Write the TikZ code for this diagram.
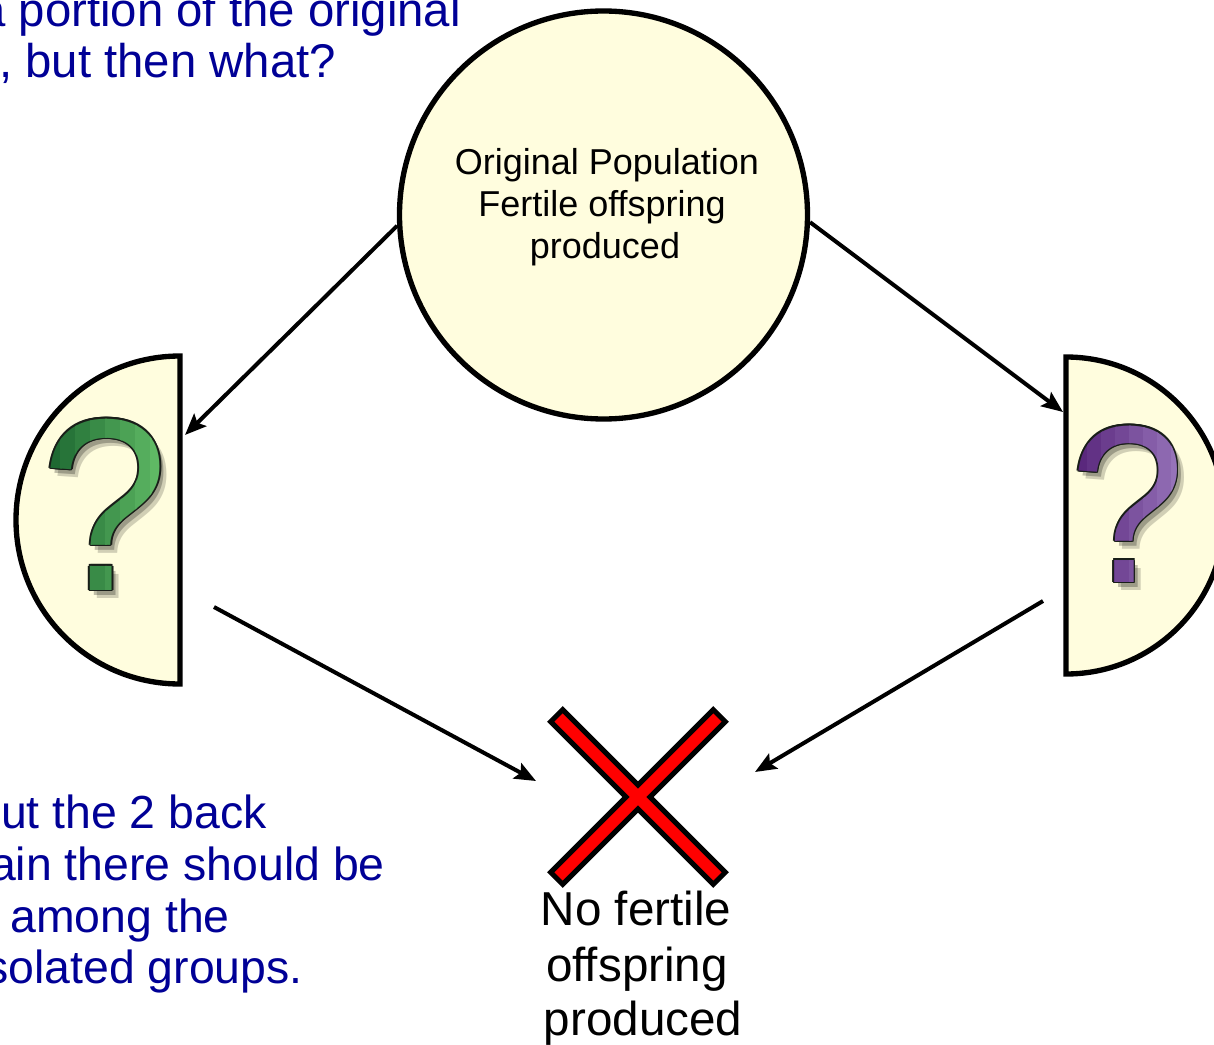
\documentclass[tikz,border=0pt]{standalone}
\usepackage{fontspec}
\setmainfont{Liberation Sans}
\usetikzlibrary{arrows.meta}
\definecolor{paleyel}{RGB}{255,253,222}
\definecolor{navytxt}{RGB}{0,0,150}
\definecolor{xred}{RGB}{255,0,0}
\definecolor{gdark}{RGB}{30,105,50}
\definecolor{glight}{RGB}{95,185,100}
\definecolor{pdark}{RGB}{90,40,125}
\definecolor{plight}{RGB}{150,115,185}
\definecolor{qoutl}{RGB}{25,30,25}
\newcommand{\qmark}[2]{\scalebox{#2}[1]{\fontsize{#1}{#1}\selectfont ?}}
\begin{document}
\begin{tikzpicture}[x=0.75pt,y=-0.75pt,
  bluetext/.style={text=navytxt, font=\fontsize{35.5pt}{38pt}\selectfont, inner sep=0pt},
  bluetextb/.style={text=navytxt, font=\fontsize{34.8pt}{38pt}\selectfont, inner sep=0pt, anchor=base east},
  circtext/.style={text=black, font=\fontsize{27pt}{28pt}\selectfont, inner sep=0pt, anchor=base},
  notext/.style={text=black, font=\fontsize{35.7pt}{38pt}\selectfont, inner sep=0pt, anchor=base},
  shapeline/.style={line width=4pt, draw=black, fill=paleyel, line join=miter},
  arr/.style={line width=3pt, -{Stealth[length=16pt,width=13pt,inset=3pt]}},
  qm/.style={inner sep=0pt, anchor=base},
]
\useasboundingbox (0,0) rectangle (1214,1045);

% blue texts
\node[bluetext, anchor=base west] (t1) at (-21,27) {a portion of the original};
\node[bluetext, anchor=base west] (t2) at (-1,78) {, but then what?};
\node[bluetextb] (b1) at (267,828) {ut the 2 back};
\node[bluetextb] (b2) at (385,880) {ain there should be};
\node[bluetextb] (b3) at (230,932) {among the};
\node[bluetextb] (b4) at (303,983) {solated groups.};

% original population circle
\node[circle, shapeline, minimum size=306pt, inner sep=0pt] (orig) at (603.5,215) {};
\node[circtext] (o1) at (607,175) {Original Population};
\node[circtext] (o2) at (602,217) {Fertile offspring};
\node[circtext] (o3) at (605,258) {produced};

% half discs
\draw[shapeline] (180,356) arc[start angle=270, end angle=90, radius=164] -- cycle;
\draw[shapeline] (1066,357) arc[start angle=-90, end angle=90, radius=158.5] -- cycle;

% left question mark (green)
\node[qm, text=black, opacity=0.18] (lqs1) at (112,598) {\qmark{184pt}{0.93}};
\node[qm, text=black, opacity=0.25] (lqs2) at (109,595) {\qmark{184pt}{0.93}};
\foreach \dx/\dy [count=\n] in {-1.6/0, 1.6/0, 0/-1.6, 0/1.6, -1.1/-1.1, 1.1/1.1, -1.1/1.1, 1.1/-1.1}
  \node[qm, text=qoutl] (lqo\n) at (105+\dx,590+\dy) {\qmark{184pt}{0.93}};
\foreach \k in {0,...,7}{
  \pgfmathtruncatemacro\pc{\k*100/7}
  \begin{scope}
    \clip (45+\k*15,400) rectangle (61+\k*15,610);
    \node[qm, text=glight!\pc!gdark] (lq\k) at (105,590) {\qmark{184pt}{0.93}};
  \end{scope}
}

% right question mark (purple)
\node[qm, text=black, opacity=0.18] (rqs1) at (1134.5,590) {\qmark{168pt}{0.92}};
\node[qm, text=black, opacity=0.25] (rqs2) at (1131.5,587) {\qmark{168pt}{0.92}};
\foreach \dx/\dy [count=\n] in {-1.6/0, 1.6/0, 0/-1.6, 0/1.6, -1.1/-1.1, 1.1/1.1, -1.1/1.1, 1.1/-1.1}
  \node[qm, text=qoutl] (rqo\n) at (1127.5+\dx,582+\dy) {\qmark{168pt}{0.92}};
\foreach \k in {0,...,7}{
  \pgfmathtruncatemacro\pc{\k*100/7}
  \begin{scope}
    \clip (1073+\k*14,400) rectangle (1088+\k*14,600);
    \node[qm, text=plight!\pc!pdark] (rq\k) at (1127.5,582) {\qmark{168pt}{0.92}};
  \end{scope}
}

% red X
\begin{scope}[shift={(638,797)}, rotate=45]
  \draw[line width=3.75pt, fill=xred, line join=miter]
    (115,8.5) -- (8.5,8.5) -- (8.5,115) -- (-8.5,115) -- (-8.5,8.5) -- (-115,8.5)
    -- (-115,-8.5) -- (-8.5,-8.5) -- (-8.5,-115) -- (8.5,-115) -- (8.5,-8.5) -- (115,-8.5) -- cycle;
\end{scope}
\node[notext] (n1) at (636,925) {No fertile};
\node[notext] (n2) at (637,981) {offspring};
\node[notext] (n3) at (643,1035) {produced};

% connectors
\coordinate (lin) at (185,435);
\coordinate (rin) at (1063,412);
\coordinate (lout) at (214,607);
\coordinate (rout) at (1043,601);
\coordinate (xl) at (536,781);
\coordinate (xr) at (755,772);
\draw[arr] (orig.183.6) -- (lin);
\draw[arr] (orig.-2) -- (rin);
\draw[arr] (lout) -- (xl);
\draw[arr] (rout) -- (xr);
\end{tikzpicture}
\end{document}
